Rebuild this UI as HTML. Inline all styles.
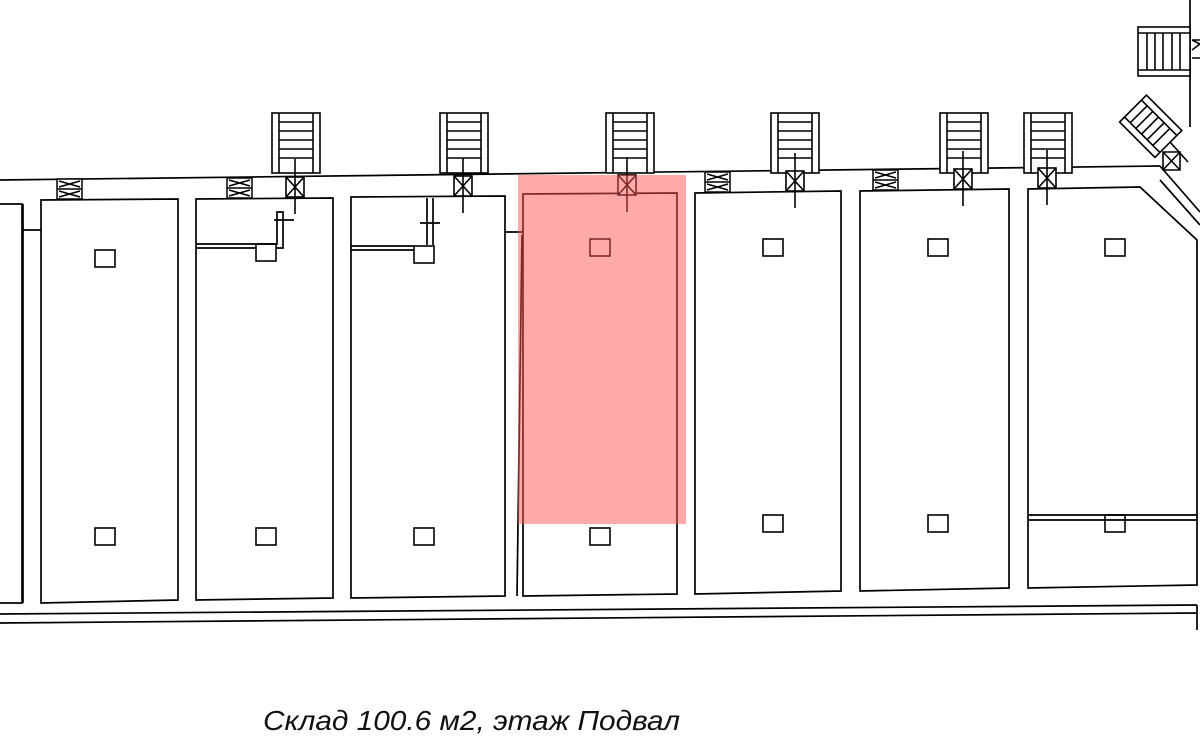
<!DOCTYPE html>
<html><head><meta charset="utf-8"><style>html,body{margin:0;padding:0;background:#fff}svg{display:block}</style></head>
<body>
<svg width="1200" height="745" viewBox="0 0 1200 745" xmlns="http://www.w3.org/2000/svg">
<defs>
<g id="st" fill="none" stroke="#000" stroke-width="1.6">
<rect x="0" y="0" width="48" height="60" fill="#fff"/>
<line x1="7" y1="0" x2="7" y2="60"/><line x1="41" y1="0" x2="41" y2="60"/>
<line x1="7" y1="9" x2="41" y2="9"/><line x1="7" y1="18" x2="41" y2="18"/><line x1="7" y1="27" x2="41" y2="27"/><line x1="7" y1="36" x2="41" y2="36"/><line x1="7" y1="45" x2="41" y2="45"/>
</g>
<g id="dr" fill="none" stroke="#000" stroke-width="1.6">
<rect x="0" y="0" width="18" height="20" fill="#fff"/>
<line x1="0" y1="0" x2="18" y2="20"/><line x1="18" y1="0" x2="0" y2="20"/>
<line x1="9" y1="-18" x2="9" y2="37"/>
</g>
<g id="vt" fill="#fff" stroke="#000" stroke-width="1.5">
<rect x="0" y="0" width="25" height="20"/>
<line x1="0" y1="10" x2="25" y2="10"/>
<path d="M2 2 L23 8 M23 2 L2 8 M2 12 L23 18 M23 12 L2 18" fill="none"/>
</g>
<rect id="sq" width="20" height="17" fill="none" stroke="#000" stroke-width="1.6"/>
</defs>
<g fill="none" stroke="#000" stroke-width="1.7">
<line x1="0" y1="180" x2="1160" y2="166"/>
<line x1="0" y1="614" x2="1197" y2="605"/>
<line x1="0" y1="623" x2="1197" y2="613"/>
<line x1="1197" y1="605" x2="1197" y2="630"/>
<polyline points="0,204 22,204 22,603 0,603"/>
<line x1="23" y1="204" x2="23" y2="603"/><line x1="23" y1="230" x2="41" y2="230"/>
<polygon points="41,200 178,199 178,600 41,603"/>
<polygon points="196,199 333,198 333,598 196,600"/>
<polygon points="351,197 505,196 505,596 351,598"/>
<polygon points="523,194 677,193 677,594 523,596"/>
<line x1="505" y1="232" x2="523" y2="232"/><line x1="522" y1="235" x2="517" y2="596"/>
<polygon points="695,193 841,191 841,591 695,594"/>
<polygon points="860,191 1009,189 1009,588 860,591"/>
<polygon points="1028,189 1140,187 1197,240 1197,585 1028,588"/>
<line x1="1028" y1="515" x2="1197" y2="515"/><line x1="1028" y1="520" x2="1197" y2="520"/>
<line x1="1160" y1="166" x2="1200" y2="212"/><line x1="1160" y1="180" x2="1200" y2="225"/>
<line x1="1190" y1="0" x2="1190" y2="127"/>
<polyline points="196,244 277,244 277,212 283,212 283,248 276,248"/>
<polyline points="351,246 414,246"/><line x1="196" y1="248" x2="256" y2="248"/><line x1="351" y1="250" x2="414" y2="250"/>
<line x1="427" y1="198" x2="427" y2="245"/><line x1="433" y1="198" x2="433" y2="245"/>
<line x1="274" y1="220" x2="294" y2="220"/><line x1="420" y1="223" x2="440" y2="223"/>
</g>
<g fill="none" stroke="#000" stroke-width="1.6">
<rect x="1138" y="27" width="52" height="49" fill="#fff"/>
<line x1="1138" y1="33" x2="1190" y2="33"/><line x1="1138" y1="70" x2="1190" y2="70"/>
<line x1="1147" y1="33" x2="1147" y2="70"/><line x1="1155" y1="33" x2="1155" y2="70"/><line x1="1163" y1="33" x2="1163" y2="70"/><line x1="1172" y1="33" x2="1172" y2="70"/><line x1="1180" y1="33" x2="1180" y2="70"/>
<path d="M1192 40 L1200 44 L1192 50 M1192 40 L1200 40 M1192 58 L1200 58"/>
<g transform="translate(1150,127) rotate(45)">
<rect x="-25" y="-20" width="50" height="38" fill="#fff"/>
<line x1="-25" y1="-13" x2="25" y2="-13"/><line x1="-25" y1="11" x2="25" y2="11"/>
<line x1="-17" y1="-13" x2="-17" y2="11"/><line x1="-9" y1="-13" x2="-9" y2="11"/><line x1="-1" y1="-13" x2="-1" y2="11"/><line x1="7" y1="-13" x2="7" y2="11"/><line x1="15" y1="-13" x2="15" y2="11"/>
</g>
<path d="M1163 152 L1180 152 L1180 170 L1163 170 Z M1163 152 L1180 170 M1180 152 L1163 170 M1170 142 L1188 162"/>
</g>
<use href="#st" x="272" y="113"/><use href="#st" x="440" y="113"/><use href="#st" x="606" y="113"/>
<use href="#st" x="771" y="113"/><use href="#st" x="940" y="113"/><use href="#st" x="1024" y="113"/>
<use href="#dr" x="286" y="177"/><use href="#dr" x="454" y="176"/><use href="#dr" x="618" y="175"/>
<use href="#dr" x="786" y="171"/><use href="#dr" x="954" y="169"/><use href="#dr" x="1038" y="168"/>
<use href="#vt" x="57" y="179"/><use href="#vt" x="227" y="178"/><use href="#vt" x="705" y="172"/><use href="#vt" x="873" y="170"/>
<use href="#sq" x="95" y="250"/><use href="#sq" x="95" y="528"/>
<use href="#sq" x="256" y="244"/><use href="#sq" x="256" y="528"/>
<use href="#sq" x="414" y="246"/><use href="#sq" x="414" y="528"/>
<use href="#sq" x="590" y="239"/><use href="#sq" x="590" y="528"/>
<use href="#sq" x="763" y="239"/><use href="#sq" x="763" y="515"/>
<use href="#sq" x="928" y="239"/><use href="#sq" x="928" y="515"/>
<use href="#sq" x="1105" y="239"/><use href="#sq" x="1105" y="515"/>
<rect x="518" y="175" width="168" height="349" fill="#f55" fill-opacity="0.5"/>
<text x="263" y="730" font-family="Liberation Sans, sans-serif" font-style="italic" font-size="28" textLength="417" lengthAdjust="spacingAndGlyphs" fill="#111">Склад 100.6 м2, этаж Подвал</text>
</svg>
</body></html>
